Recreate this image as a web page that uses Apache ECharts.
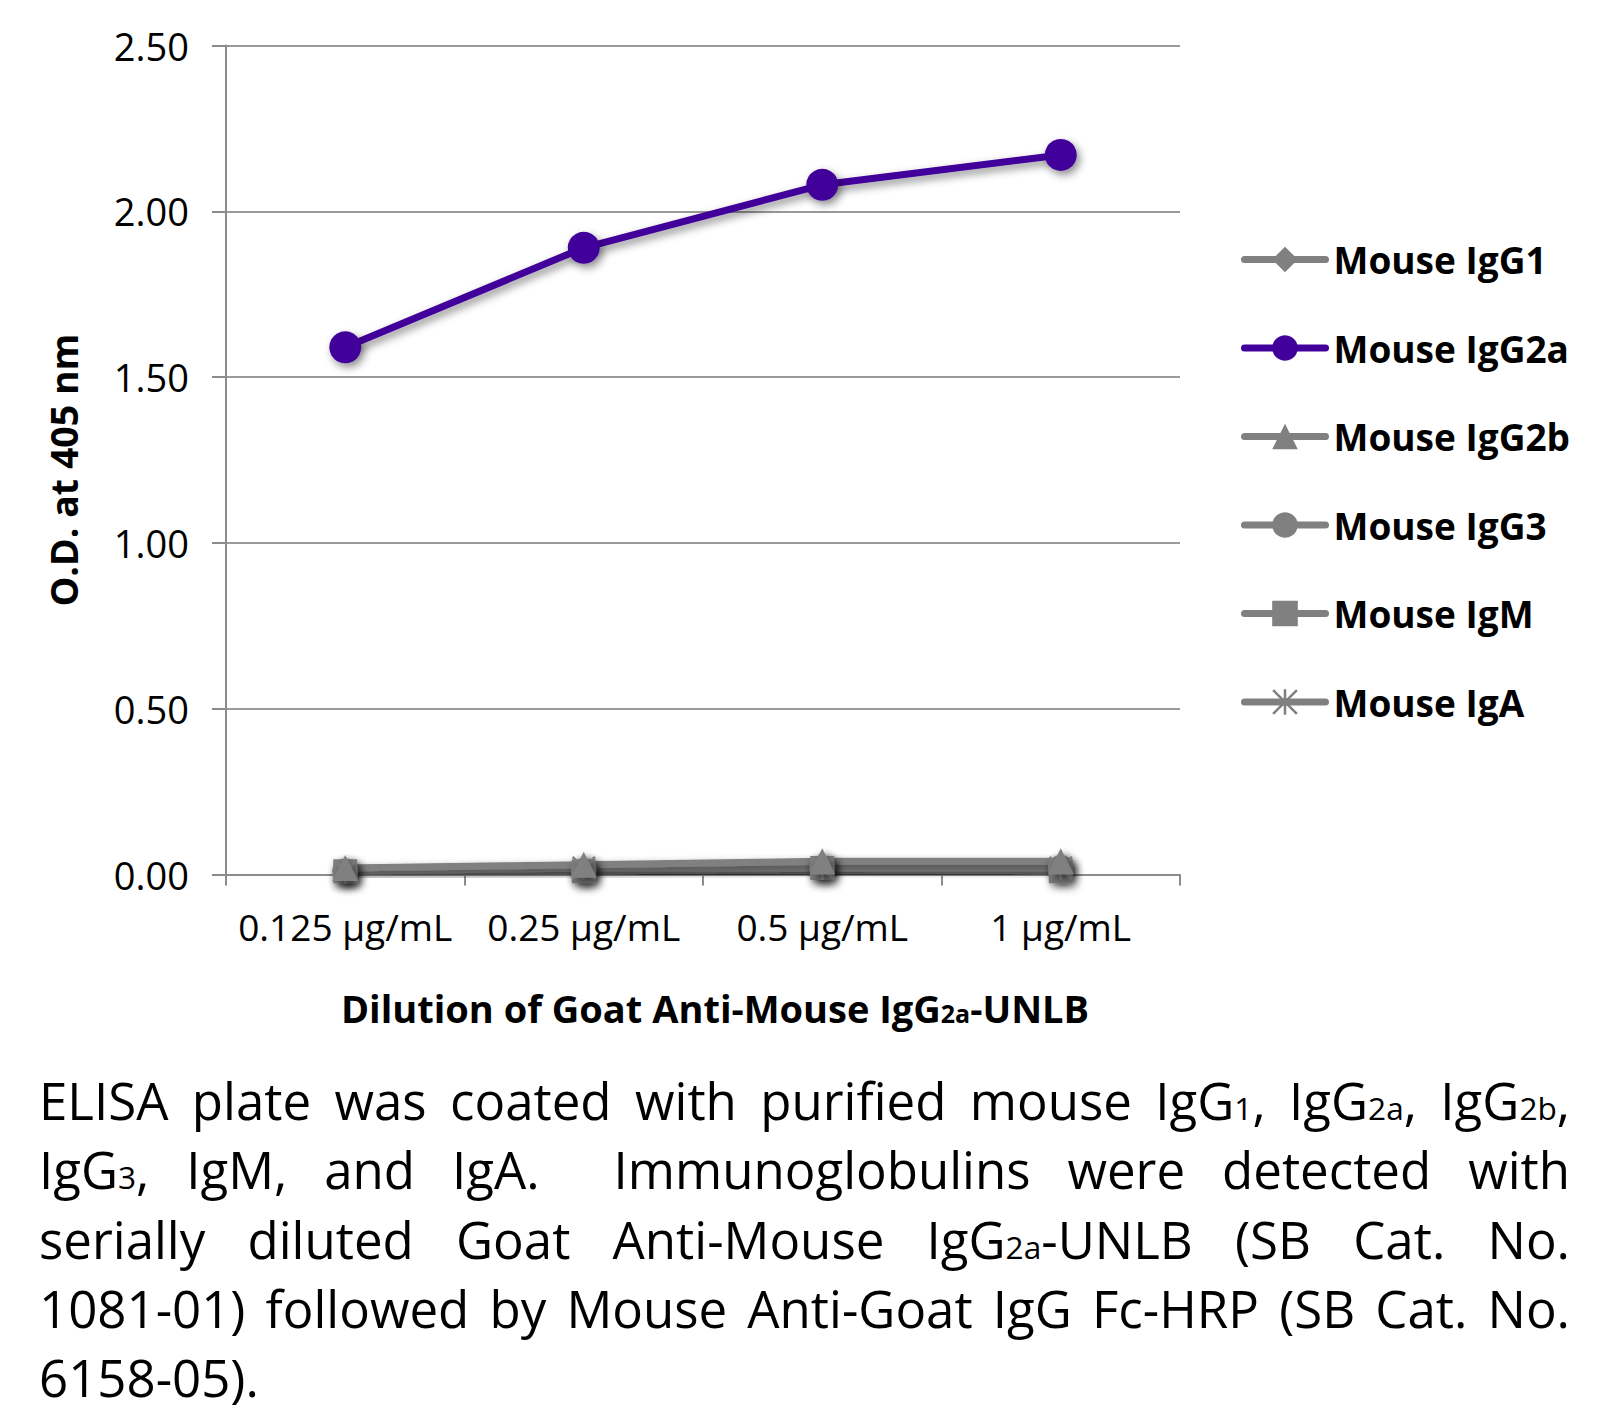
<!DOCTYPE html>
<html>
<head>
<meta charset="utf-8">
<script src="https://cdn.jsdelivr.net/npm/echarts@6/dist/echarts.min.js"></script>
<style>
  html, body { margin: 0; padding: 0; background: #fff; }
  #wrap { position: relative; width: 1621px; height: 1414px; overflow: hidden; }
  #chart { position: absolute; left: 0; top: 0; width: 1621px; height: 1414px; }
  #caption { position: absolute; left: 39px; top: 1066px; width: 1531px;
    font-family: "Open Sans", sans-serif; font-size: 51px; line-height: 69.3px; color: #000; }
  #caption .ln { white-space: nowrap; text-align: justify; text-align-last: justify; height: 69.3px; }
  #caption .ln.last { text-align-last: left; }
  #caption .s { font-size: 0.62em; line-height: 0; }
</style>
</head>
<body>
<div id="wrap">
  <div id="chart"></div>
  <div id="caption">
    <div class="ln">ELISA plate was coated with purified mouse IgG<span class="s">1</span>, IgG<span class="s">2a</span>, IgG<span class="s">2b</span>,</div>
    <div class="ln">IgG<span class="s">3</span>, IgM, and IgA.&nbsp; Immunoglobulins were detected with</div>
    <div class="ln">serially diluted Goat Anti-Mouse IgG<span class="s">2a</span>-UNLB (SB Cat. No.</div>
    <div class="ln">1081-01) followed by Mouse Anti-Goat IgG Fc-HRP (SB Cat. No.</div>
    <div class="ln last">6158-05).</div>
  </div>
</div>
<script>
// ---- Data ----
const categories = ['0.125 µg/mL', '0.25 µg/mL', '0.5 µg/mL', '1 µg/mL'];
const seriesNames = ['Mouse IgG1', 'Mouse IgG2a', 'Mouse IgG2b', 'Mouse IgG3', 'Mouse IgM', 'Mouse IgA'];
const igG1 = [0.01, 0.02, 0.03, 0.03];
const igG2a = [1.59, 1.89, 2.08, 2.17];
const igG2b = [0.02, 0.03, 0.04, 0.04];
const igG3 = [0.01, 0.01, 0.02, 0.02];
const igM = [0.01, 0.01, 0.02, 0.01];
const igA = [0.01, 0.02, 0.02, 0.02];
const yTicks = { min: 0, max: 2.5, interval: 0.5 };

const GRAY = '#808080';
const PURPLE = '#42009a';
const asterisk = 'path://M45 0L55 0L55 100L45 100Z M0 7L7 0L100 93L93 100Z M93 0L100 7L7 100L0 93Z';

function mkSeries(name, data, color, symbol, size) {
  return {
    name: name, type: 'line', data: data,
    symbol: symbol, symbolSize: size,
    lineStyle: { color: color, width: 7, shadowColor: 'rgba(0,0,0,0.45)', shadowBlur: 8, shadowOffsetX: 3, shadowOffsetY: 4 },
    itemStyle: { color: color, shadowColor: 'rgba(0,0,0,0.45)', shadowBlur: 8, shadowOffsetX: 3, shadowOffsetY: 4 },
    emphasis: { disabled: true },
    animation: false
  };
}

const chart = echarts.init(document.getElementById('chart'), null, { renderer: 'svg' });
chart.setOption({
  animation: false,
  grid: { left: 226, right: 441, top: 45.5, bottom: 539.4, containLabel: false },
  legend: {
    orient: 'vertical', left: 1236, top: 236,
    itemWidth: 81, itemHeight: 32, itemGap: 51.5,
    lineStyle: { width: 7, cap: 'round' },
    textStyle: { fontFamily: 'Open Sans', fontWeight: 'bold', fontSize: 37, color: '#000', padding: [0, 0, 0, 3] },
    data: seriesNames
  },
  xAxis: {
    type: 'category', data: categories, boundaryGap: true,
    axisLine: { lineStyle: { color: '#8c8c8c', width: 2 } },
    axisTick: { show: true, length: 11, lineStyle: { color: '#8c8c8c', width: 2 } },
    axisLabel: { interval: 0, margin: 33, fontFamily: 'Open Sans', fontSize: 37, color: '#000' },
    name: '{b|Dilution of Goat Anti-Mouse IgG}{s|2a}{b|-UNLB}',
    nameLocation: 'middle', nameGap: 114,
    nameTextStyle: {
      padding: [0, 0, 0, 24],
      rich: {
        b: { fontFamily: 'Open Sans', fontWeight: 'bold', fontSize: 38, color: '#000' },
        s: { fontFamily: 'Open Sans', fontWeight: 'bold', fontSize: 25, color: '#000', padding: [11, 0, 0, 0] }
      }
    }
  },
  yAxis: {
    type: 'value', min: yTicks.min, max: yTicks.max, interval: yTicks.interval,
    axisLine: { show: true, lineStyle: { color: '#8c8c8c', width: 2 } },
    axisTick: { show: true, length: 14, lineStyle: { color: '#8c8c8c', width: 2 } },
    splitLine: { show: true, lineStyle: { color: '#9a9a9a', width: 2 } },
    axisLabel: { margin: 37, fontFamily: 'Open Sans', fontSize: 38, color: '#000', formatter: v => v.toFixed(2) },
    name: 'O.D. at 405 nm', nameLocation: 'middle', nameGap: 144, nameRotate: 90,
    nameTextStyle: { fontFamily: 'Open Sans', fontWeight: 'bold', fontSize: 37.5, color: '#000', padding: [0, 20, 0, 0] }
  },
  series: [
    mkSeries(seriesNames[1], igG2a, PURPLE, 'circle', 32),
    mkSeries(seriesNames[0], igG1, GRAY, 'diamond', 26),
    mkSeries(seriesNames[3], igG3, GRAY, 'circle', 26),
    mkSeries(seriesNames[4], igM, GRAY, 'rect', 24),
    mkSeries(seriesNames[5], igA, GRAY, asterisk, 24),
    mkSeries(seriesNames[2], igG2b, GRAY, 'triangle', 26)
  ]
});
</script>
</body>
</html>
